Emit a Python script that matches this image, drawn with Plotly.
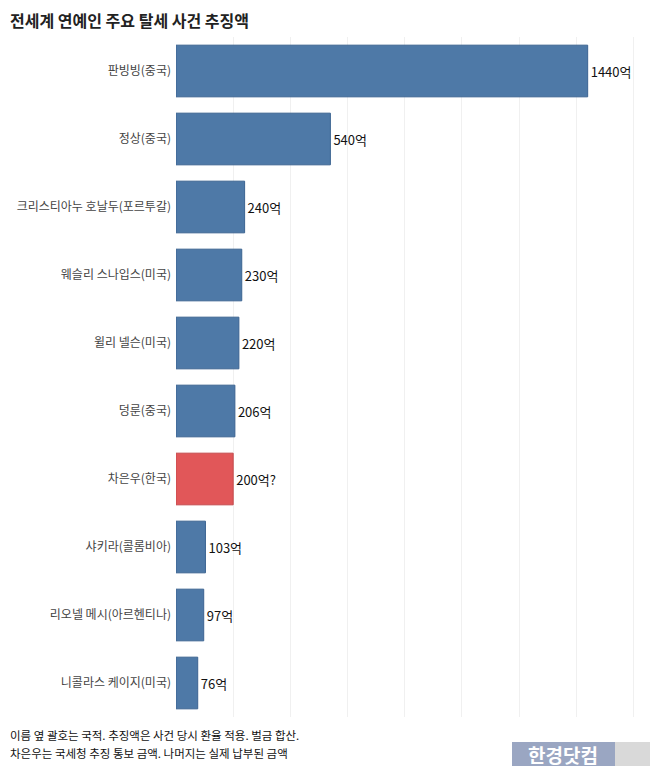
import plotly.graph_objects as go

NAMES = [
    "판빙빙(중국)", "정상(중국)", "크리스티아누 호날두(포르투갈)", "웨슬리 스나입스(미국)",
    "윌리 넬슨(미국)", "덩룬(중국)", "차은우(한국)", "샤키라(콜롬비아)",
    "리오넬 메시(아르헨티나)", "니콜라스 케이지(미국)",
]
AMOUNTS = [1440, 540, 240, 230, 220, 206, 200, 103, 97, 76]
VALUE_LABELS = ["1440억", "540억", "240억", "230억", "220억", "206억", "200억?", "103억", "97억", "76억"]
HIGHLIGHT = "차은우(한국)"

FONT = "Noto Sans CJK KR"
# page body adds an 8px margin, so the figure is drawn 8px smaller than the window
W, H = 650, 764
L, R, T, B = 168, 6, 29, 55
PW, PH = W - L - R, H - T - B


def px(x):
    # figure pixel x -> paper x
    return (x - L) / PW


def py(y):
    # figure pixel y (from top) -> paper y
    return (H - B - y) / PH


colors = ["#E15759" if n == HIGHLIGHT else "#4E79A7" for n in NAMES]
borders = ["#C44A4C" if n == HIGHLIGHT else "#3B6391" for n in NAMES]

fig = go.Figure(go.Bar(
    x=AMOUNTS, y=NAMES, orientation="h",
    marker=dict(color=colors, line=dict(color=borders, width=1)),
    width=0.76,
    text=VALUE_LABELS, textposition="outside", cliponaxis=False,
    textfont=dict(family=FONT, size=13, color="#111"),
))

fig.update_xaxes(range=[0, 1665], dtick=200, showticklabels=False,
                 showgrid=True, gridcolor="#f0f0f0", gridwidth=1, zeroline=False)
fig.update_yaxes(autorange="reversed", showgrid=False, ticks="",
                 tickfont=dict(family=FONT, size=12, color="#444"),
                 ticklabelstandoff=4)

fig.update_layout(
    width=W, height=H,
    margin=dict(l=L, r=R, t=T, b=B, autoexpand=False),
    plot_bgcolor="white", paper_bgcolor="white",
    showlegend=False,
    font=dict(family=FONT),
    annotations=[
        dict(text="<b>전세계 연예인 주요 탈세 사건 추징액</b>", xref="paper", yref="paper",
             x=px(0), y=py(12), xanchor="left", yanchor="middle",
             showarrow=False, font=dict(size=16, color="#222")),
        dict(text="이름 옆 괄호는 국적. 추징액은 사건 당시 환율 적용. 벌금 합산.",
             xref="paper", yref="paper", x=px(0), y=py(727),
             xanchor="left", yanchor="middle", showarrow=False,
             font=dict(size=11.5, color="#111")),
        dict(text="차은우는 국세청 추징 통보 금액. 나머지는 실제 납부된 금액",
             xref="paper", yref="paper", x=px(0), y=py(745),
             xanchor="left", yanchor="middle", showarrow=False,
             font=dict(size=11.5, color="#111")),
        dict(text="<b>한경닷컴</b>", xref="paper", yref="paper",
             x=px(555), y=py(746), xanchor="center", yanchor="middle",
             showarrow=False, font=dict(size=19, color="white")),
    ],
    shapes=[
        dict(type="rect", xref="paper", yref="paper",
             x0=px(504), x1=px(607), y0=py(758), y1=py(734),
             fillcolor="#9AA6C2", line=dict(width=0)),
        dict(type="rect", xref="paper", yref="paper",
             x0=px(607), x1=px(644), y0=py(758), y1=py(734),
             fillcolor="#D9D9D9", line=dict(width=0)),
    ],
)

fig.write_html("out.html")
